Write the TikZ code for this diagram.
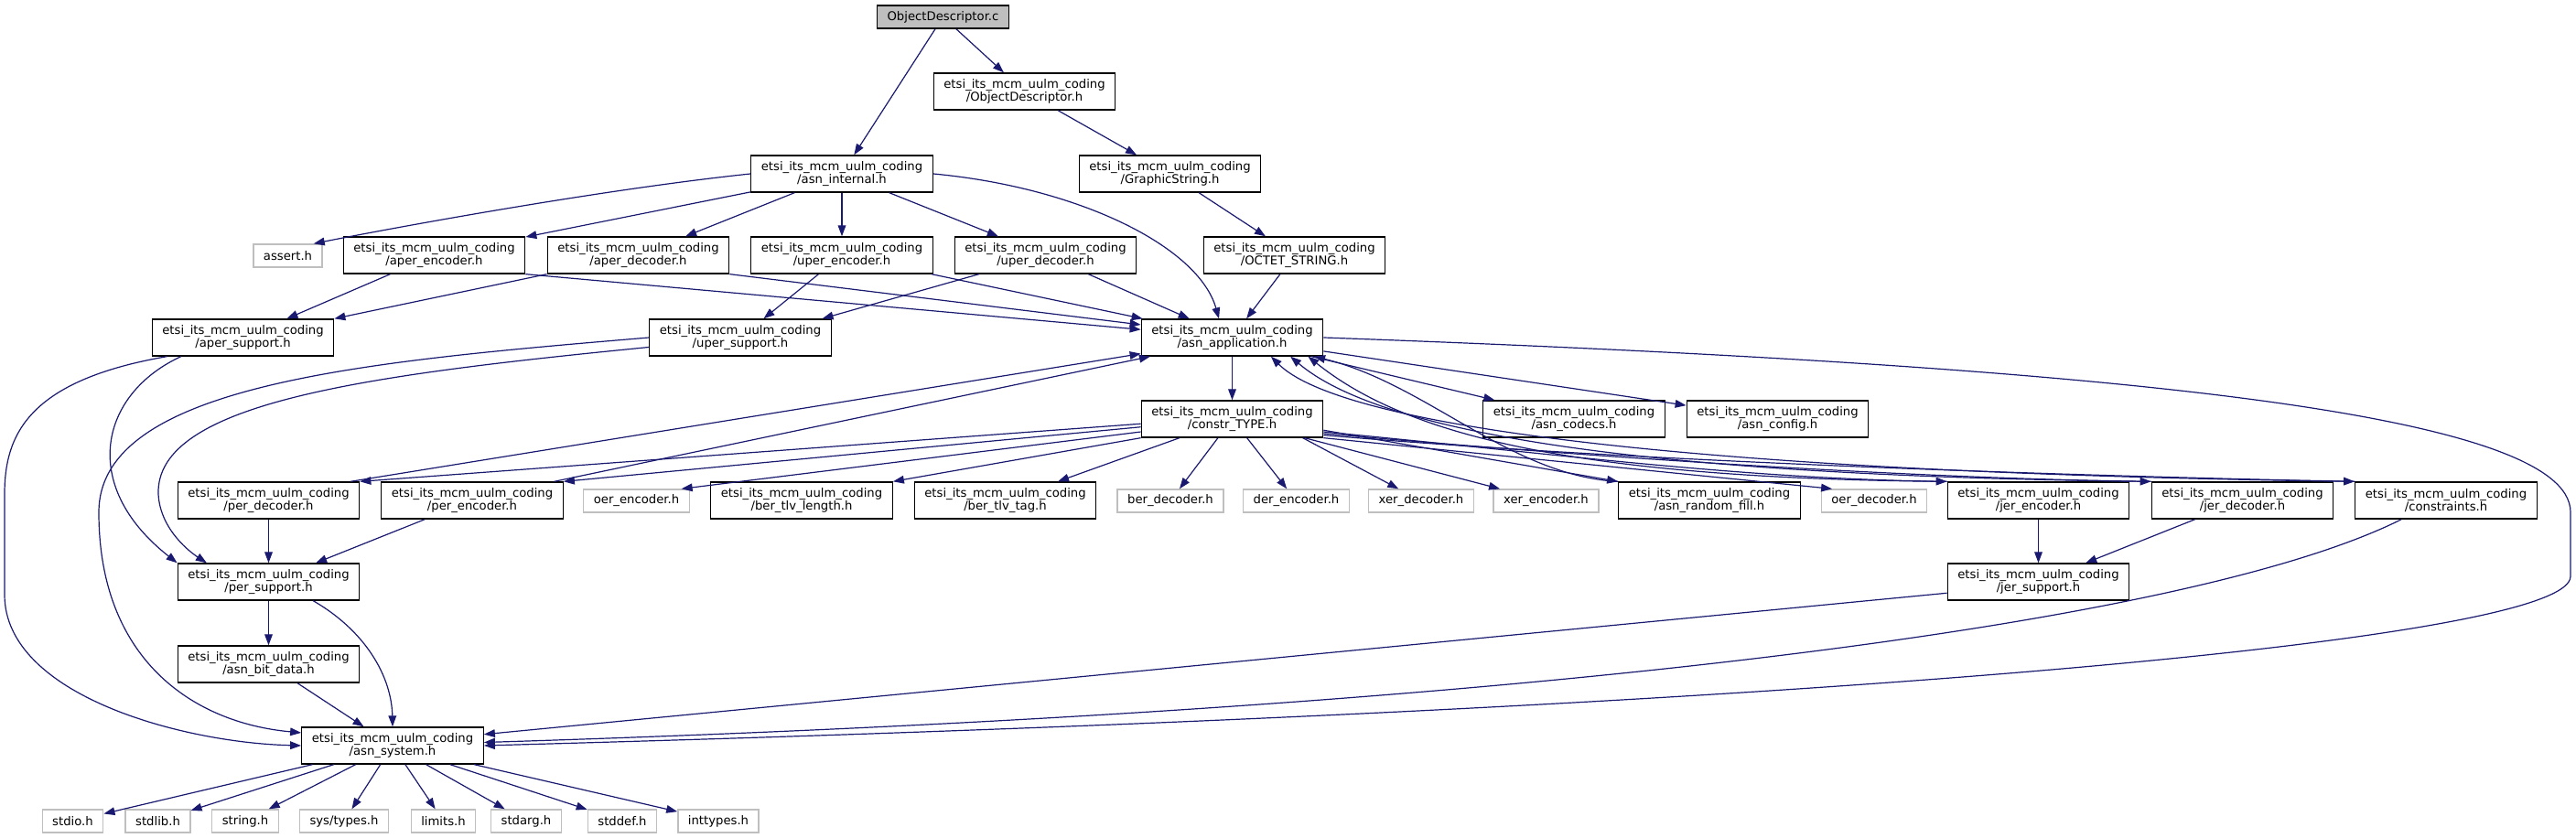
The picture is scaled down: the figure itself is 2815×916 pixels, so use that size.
\documentclass[tikz,border=0pt]{standalone}
\usepackage{fontspec}
\setmainfont{DejaVu Sans}
\usetikzlibrary{arrows.meta}
\definecolor{edgeblue}{HTML}{191970}
\definecolor{grey75}{HTML}{BFBFBF}
\newcommand{\mcm}[1]{etsi\_its\_mcm\_uulm\_coding\\/#1}
\tikzset{
 hdr/.style={draw=black, line width=1pt, fill=white, align=center, inner xsep=8.3pt, inner ysep=1pt, minimum height=30pt, font=\fontsize{9.9}{10.5}\selectfont},
 ext/.style={hdr, draw=grey75, minimum height=18.75pt},
 rootfile/.style={hdr, fill=grey75, minimum height=18.75pt},
 dep/.style={draw=edgeblue, line width=0.9pt, -{Triangle[length=9pt,width=6.5pt]}}
}

\begin{document}
\begin{tikzpicture}[x=0.75pt,y=0.75pt]
\useasboundingbox (0,0) rectangle (2815,916);
\node[rootfile] (root) at (1030.5,897.5) {ObjectDescriptor.c};
\foreach \n/\x/\y/\f in {objh/1119.5/816/ObjectDescriptor.h, asnint/920/726/asn\_internal.h,
 graphstr/1278.5/726/GraphicString.h, aperenc/474.5/637/aper\_encoder.h, aperdec/697.5/637/aper\_decoder.h,
 uperenc/920/637/uper\_encoder.h, uperdec/1142.5/637/uper\_decoder.h, octet/1414.5/637/OCTET\_STRING.h,
 apersup/265.5/547/aper\_support.h, upersup/809/547/uper\_support.h, asnapp/1346.5/547/asn\_application.h,
 constr/1346.5/458/constr\_TYPE.h, codecs/1720/458/asn\_codecs.h, config/1942.5/458/asn\_config.h,
 perdec/293.5/369/per\_decoder.h, perenc/516/369/per\_encoder.h, bertlvlen/876/369/ber\_tlv\_length.h,
 bertlvtag/1098.5/369/ber\_tlv\_tag.h, randfill/1868/369/asn\_random\_fill.h, jerenc/2227.5/369/jer\_encoder.h,
 jerdec/2450.5/369/jer\_decoder.h, constraints/2673/369/constraints.h, persup/293.5/280/per\_support.h,
 jersup/2227.5/280/jer\_support.h, bitdata/293.5/190/asn\_bit\_data.h, system/429/101/asn\_system.h}
 \node[hdr] (\n) at (\x,\y) {\mcm{\f}};
\foreach \n/\x/\y/\f in {assert/314.5/636.5/assert.h, oerenc/695.5/368.5/oer\_encoder.h,
 berdec/1279/368.5/ber\_decoder.h, derenc/1416.5/368.5/der\_encoder.h, xerdec/1553/368.5/xer\_decoder.h,
 xerenc/1689.5/368.5/xer\_encoder.h, oerdec/2048/368.5/oer\_decoder.h}
 \node[ext] (\n) at (\x,\y) {\f};
\foreach \n/\x/\f in {stdio/79.5/stdio.h, stdlib/172.5/stdlib.h, string/268/string.h, limits/484.5/limits.h,
 stdarg/575/stdarg.h, stddef/680/stddef.h, inttypes/785/inttypes.h}
 \node[ext] (\n) at (\x,18.5) {\f};
\node[ext] (systypes) at (376,18.5) {sys/types.h};

\foreach \a/\b in {root/asnint, root/objh, objh/graphstr, graphstr/octet, octet/asnapp, asnint/aperenc,
 asnint/aperdec, asnint/uperenc, asnint/uperdec, aperenc/apersup, uperenc/upersup, uperenc/asnapp,
 uperdec/asnapp, asnapp/constr, asnapp/codecs, asnapp/config, constr/bertlvtag, constr/berdec,
 constr/derenc, constr/xerenc, perdec/persup, perenc/persup, persup/bitdata, bitdata/system,
 jerenc/jersup, jerdec/jersup}
 \draw[dep] (\a) -- (\b);
\foreach \t in {stdio,stdlib,string,systypes,limits,stdarg,stddef,inttypes}
 \draw[dep] (system) -- (\t);

\draw[dep] (asnint.west) .. controls (650,708) and (420,665) .. (assert.25);
\draw[dep] (asnint.east) .. controls (1180,711) and (1310,646) .. (asnapp.125);
\draw[dep] (aperenc.south east) -- (asnapp.175);
\draw[dep] (aperdec.south west) -- (apersup.north east);
\draw[dep] (aperdec.south east) -- (asnapp.172);
\draw[dep] (uperdec) -- (upersup.13);
\draw[dep] (apersup.194) .. controls (30,500) and (5,440) .. (5,376) -- (5,266) .. controls (5,156) and (200,104) .. (system.west);
\draw[dep] (apersup.197) .. controls (110,486) and (85,386) .. (persup.north west);
\draw[dep] (upersup.west) .. controls (400,521) and (108,496) .. (108,356) .. controls (108,196) and (210,126) .. (system.172);
\draw[dep] (upersup.186) .. controls (400,506) and (170,476) .. (173,376) .. controls (175,336) and (210,311) .. (persup.163);
\draw[dep] (asnapp.east) .. controls (2300,516) and (2809,466) .. (2809,356) -- (2809,286) .. controls (2809,216) and (2000,141) .. (system.east);

\draw[dep] (constr.183) -- (perdec.north east);
\draw[dep] (constr.185) -- (perenc.north east);
\draw[dep] (constr.188) -- (oerenc.15);
\draw[dep] (constr.south west) -- (bertlvlen.north east);
\draw[dep] (constr.-15) -- (xerdec);
\draw[dep] (constr.-7) -- (randfill.north west);
\draw[dep] (constr.south east) -- (oerdec.164);
\draw[dep] (constr.-8) .. controls (1700,420) and (1900,393) .. (jerenc.north west);
\draw[dep] (constr.-9) .. controls (1750,415) and (2100,393) .. (jerdec.north west);
\draw[dep] (constr.-10) .. controls (1800,410) and (2300,395) .. (constraints.north west);

\draw[dep] (perdec.13) -- (asnapp.190);
\draw[dep] (perenc.13) -- (asnapp.193);
\draw[dep] (randfill.north west) .. controls (1650,396) and (1560,496) .. (asnapp.-13);
\draw[dep] (jerenc.north west) .. controls (1700,393) and (1530,446) .. (asnapp.-14);
\draw[dep] (jerdec.north west) .. controls (1750,396) and (1500,450) .. (asnapp.-18);
\draw[dep] (constraints.north west) .. controls (1800,400) and (1460,455) .. (asnapp.-26);

\draw[dep] (persup.-23) .. controls (400,226) and (428,176) .. (system.north);
\draw[dep] (jersup.187) -- (system.7);
\draw[dep] (constraints.-157) .. controls (2400,236) and (1700,141) .. (system.2);
\end{tikzpicture}
\end{document}
